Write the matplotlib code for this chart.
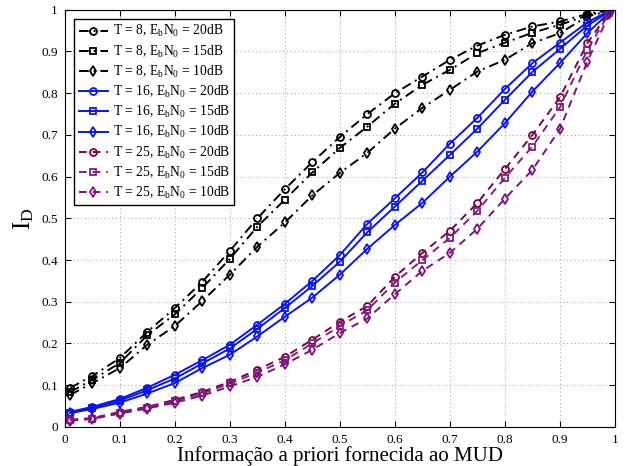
import matplotlib.pyplot as plt

plt.rcParams['font.family'] = ['Liberation Serif', 'DejaVu Serif']
plt.rcParams['mathtext.fontset'] = 'custom'
plt.rcParams['mathtext.rm'] = 'Liberation Serif'
plt.rcParams['mathtext.it'] = 'Liberation Serif:italic'

# a priori information given to the MUD
x = [0.01, 0.05, 0.1, 0.15, 0.2, 0.25, 0.3, 0.35, 0.4, 0.45, 0.5,
     0.55, 0.6, 0.65, 0.7, 0.75, 0.8, 0.85, 0.9, 0.95, 0.99]

# T = 8
t8_20 = [0.094, 0.122, 0.165, 0.228, 0.285, 0.348, 0.422, 0.50, 0.57, 0.635, 0.695,
         0.75, 0.80, 0.84, 0.88, 0.914, 0.94, 0.96, 0.972, 0.99, 1.0]
t8_15 = [0.084, 0.113, 0.153, 0.22, 0.27, 0.333, 0.403, 0.48, 0.545, 0.61, 0.669,
         0.72, 0.775, 0.82, 0.856, 0.896, 0.921, 0.945, 0.964, 0.986, 1.0]
t8_10 = [0.077, 0.105, 0.141, 0.197, 0.242, 0.302, 0.365, 0.432, 0.49, 0.555, 0.609,
         0.657, 0.715, 0.765, 0.808, 0.852, 0.88, 0.92, 0.944, 0.984, 0.998]

# T = 16
t16_20 = [0.036, 0.048, 0.067, 0.094, 0.125, 0.16, 0.197, 0.245, 0.295, 0.35, 0.412,
          0.487, 0.548, 0.61, 0.679, 0.741, 0.81, 0.872, 0.921, 0.97, 0.998]
t16_15 = [0.034, 0.046, 0.063, 0.088, 0.116, 0.152, 0.188, 0.235, 0.285, 0.338, 0.396,
          0.467, 0.528, 0.59, 0.652, 0.715, 0.784, 0.851, 0.906, 0.962, 0.996]
t16_10 = [0.033, 0.043, 0.058, 0.08, 0.105, 0.141, 0.173, 0.217, 0.264, 0.31, 0.365,
          0.427, 0.484, 0.537, 0.60, 0.66, 0.728, 0.804, 0.872, 0.944, 0.994]

# T = 25
t25_20 = [0.017, 0.021, 0.036, 0.048, 0.065, 0.084, 0.108, 0.137, 0.168, 0.209, 0.252,
          0.29, 0.36, 0.417, 0.47, 0.537, 0.618, 0.70, 0.79, 0.92, 0.995]
t25_15 = [0.016, 0.02, 0.034, 0.046, 0.062, 0.08, 0.104, 0.13, 0.16, 0.20, 0.242,
          0.28, 0.346, 0.40, 0.453, 0.518, 0.597, 0.672, 0.766, 0.904, 0.993]
t25_10 = [0.015, 0.019, 0.032, 0.044, 0.058, 0.075, 0.097, 0.12, 0.15, 0.185, 0.225,
          0.26, 0.318, 0.374, 0.417, 0.475, 0.547, 0.616, 0.714, 0.876, 0.99]

dashdot = (0, (5, 2.5, 1, 2.5))
dashed = (0, (4, 3))
lab = r'T = %d, E$_\mathrm{b}$N$_0$ = %ddB'
curves = [
    (t8_20, lab % (8, 20), 'k', dashdot, 'o'),
    (t8_15, lab % (8, 15), 'k', dashdot, 's'),
    (t8_10, lab % (8, 10), 'k', dashdot, 'd'),
    (t16_20, lab % (16, 20), '#0a14f0', '-', 'o'),
    (t16_15, lab % (16, 15), '#0a14f0', '-', 's'),
    (t16_10, lab % (16, 10), '#0a14f0', '-', 'd'),
    (t25_20, lab % (25, 20), '#800040', dashed, 'o'),
    (t25_15, lab % (25, 15), '#80207f', dashed, 's'),
    (t25_10, lab % (25, 10), '#80107f', dashed, 'd'),
]

fig = plt.figure(figsize=(6.3, 4.66), dpi=100)
ax = fig.add_axes([0.103, 0.084, 0.873, 0.895])

for y, label, c, ls, m in curves:
    ax.plot(x, y, color=c, linestyle=ls, marker=m, markersize=5,
            markerfacecolor='none', markeredgewidth=1.3, linewidth=1.4,
            label=label)

ax.set_xlim(0, 1)
ax.set_ylim(0, 1)
ax.set_xticks([i / 10 for i in range(11)])
ax.set_yticks([i / 10 for i in range(11)])
ax.set_xticklabels(['0'] + ['%.1f' % (i / 10) for i in range(1, 10)] + ['1'])
ax.set_yticklabels(['0'] + ['%.1f' % (i / 10) for i in range(1, 10)] + ['1'])
ax.tick_params(direction='in', labelsize=9.5, top=True, right=True, length=4,
               pad=5)
ax.grid(True, linestyle=(0, (1, 3)), color='#999999', linewidth=0.7)
ax.set_xlabel('Informação a priori fornecida ao MUD', fontsize=15, labelpad=0)
ax.set_ylabel(r'I$_\mathrm{D}$', fontsize=18, labelpad=4)

leg = ax.legend(loc='upper left', fontsize=9.8, handlelength=2.2,
                fancybox=False, edgecolor='k', framealpha=1,
                borderaxespad=0.7, labelspacing=0.3, handletextpad=0.3,
                borderpad=0.3)
leg.get_frame().set_linewidth(1.0)

fig.savefig('out.png', dpi=100)
